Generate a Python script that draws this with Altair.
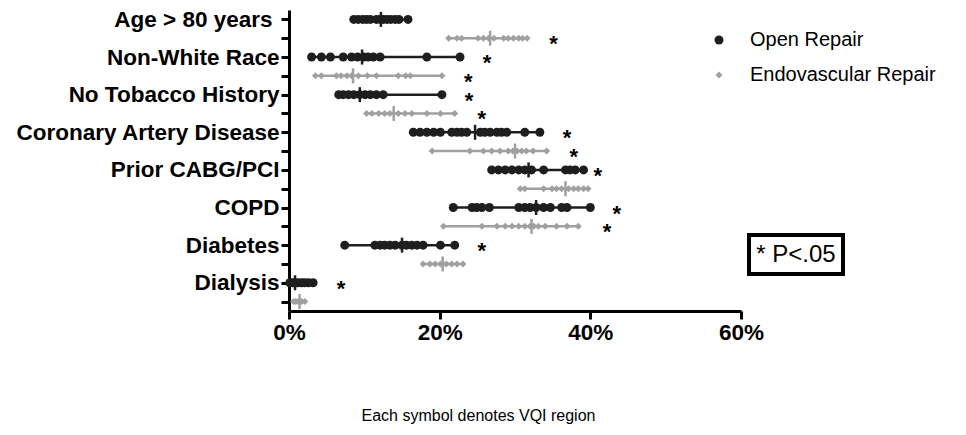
import json
import altair as alt
import pandas as pd

categories = ["Age > 80 years", "Non-White Race", "No Tobacco History",
              "Coronary Artery Disease", "Prior CABG/PCI", "COPD", "Diabetes", "Dialysis"]
groups = ["Open Repair", "Endovascular Repair"]

open_values = [
    [8.6, 9.2, 9.8, 10.3, 10.8, 11.6, 12.1, 12.5, 13.0, 13.5, 14.1, 14.6, 15.8],
    [3.0, 4.3, 5.5, 7.2, 8.3, 9.1, 9.9, 10.5, 11.2, 12.1, 18.3, 22.7],
    [6.6, 7.2, 7.9, 8.6, 9.4, 10.1, 10.8, 11.6, 12.5, 20.3],
    [16.5, 17.4, 18.3, 19.2, 20.1, 21.6, 22.3, 22.9, 23.6, 25.4, 26.0, 26.7, 27.6, 28.2, 28.9, 31.3, 33.3],
    [26.9, 27.8, 28.7, 29.6, 30.5, 31.3, 32.2, 33.8, 36.7, 37.3, 38.0, 39.1],
    [21.8, 24.3, 24.9, 25.6, 26.6, 30.5, 31.3, 32.0, 32.8, 33.8, 34.7, 36.2, 36.9, 40.0],
    [7.4, 11.4, 12.1, 12.7, 13.4, 14.1, 15.0, 15.6, 16.3, 17.0, 17.8, 20.1, 22.0],
    [0.1, 0.5, 0.8, 1.2, 1.7, 2.1, 2.6, 3.2],
]
open_medians = [12.2, 9.7, 9.4, 24.7, 31.8, 32.8, 15.0, 0.8]

endo_values = [
    [21.2, 22.3, 22.9, 25.1, 25.8, 26.5, 27.2, 28.5, 29.1, 29.8, 30.5, 31.0, 31.6],
    [3.5, 4.3, 6.3, 6.9, 7.7, 8.3, 9.2, 10.4, 11.6, 14.5, 15.5, 16.1, 20.3],
    [10.3, 11.0, 11.9, 12.7, 13.4, 14.5, 15.4, 16.3, 18.3, 20.1, 22.0],
    [19.0, 24.0, 25.8, 26.9, 28.0, 29.1, 29.7, 30.3, 30.9, 31.5, 32.4, 34.2],
    [30.7, 31.3, 33.8, 34.9, 35.5, 36.2, 37.1, 37.8, 38.4, 39.1, 39.7],
    [20.5, 25.6, 27.6, 28.7, 29.6, 30.5, 31.3, 32.0, 32.5, 33.1, 34.0, 35.5, 36.9, 38.4],
    [17.8, 18.7, 19.4, 20.1, 20.4, 20.9, 21.6, 22.3, 23.1],
    [0.6, 0.9, 1.2, 1.4, 1.7, 2.1],
]
endo_medians = [26.7, 8.5, 13.9, 30.0, 36.7, 32.2, 20.4, 1.4]

# significance markers (x position where the asterisk sits), None = no marker
open_star = [None, 26.3, 23.9, 36.9, 41.0, 43.5, 25.6, 6.9]
endo_star = [35.1, 23.8, 25.6, 37.8, None, 42.2, None, None]
star_symbol = "*"
note_text = ["* P<.05"]
x_ticks = [0, 20, 40, 60]
x_title = "Each symbol denotes VQI region"

BLACK = "#1e1e1e"
GRAY = "#a0a0a0"
FONT = "Arial, Liberation Sans, sans-serif"

pts, meds, stars = [], [], []
for i, cat in enumerate(categories):
    for g, vals, md, st, off in ((groups[0], open_values, open_medians, open_star, 1),
                                 (groups[1], endo_values, endo_medians, endo_star, 2)):
        r = 2 * i + off
        for v in vals[i]:
            pts.append({"category": cat, "group": g, "row": r, "value": v})
        meds.append({"category": cat, "group": g, "row": r, "value": md[i]})
        if st[i] is not None:
            stars.append({"row": r, "value": st[i], "label": star_symbol})
pts = pd.DataFrame(pts)
meds = pd.DataFrame(meds)
stars = pd.DataFrame(stars)

label_expr = ("datum.value % 2 == 1 ? " + json.dumps(categories, ensure_ascii=False)
              + "[floor((datum.value - 1) / 2)] : ''")

x_scale = alt.Scale(domain=[0, 60], nice=False, zero=True)
y_scale = alt.Scale(domain=[0.5, 16.5], reverse=True, nice=False, zero=False)
x_axis = alt.Axis(values=x_ticks, labelExpr="datum.value + '%'", title=x_title,
                  grid=False, tickSize=8, tickWidth=3, domainWidth=3,
                  labelFontSize=22.5, labelFontWeight="bold", labelPadding=2,
                  labelFlush=False, labelOverlap=False,
                  titleFontSize=16, titleFontWeight="normal", titleX=189, titleY=96,
                  titleBaseline="top", titleAlign="center")
y_axis = alt.Axis(values=list(range(1, 17)), labelExpr=label_expr, title=None,
                  grid=False, tickSize=8, tickWidth=3, domainWidth=3,
                  labelFontSize=22.5, labelFontWeight="bold",
                  labelPadding={"condition": {"test": "datum.value == 1", "value": 9}, "value": 2},
                  labelOverlap=False, labelBound=False, labelFlush=False, labelLimit=400)


def X(field):
    return alt.X(field, type="quantitative", scale=x_scale, axis=x_axis)


def Y():
    return alt.Y("row:Q", scale=y_scale, axis=y_axis)


layers = []
for g, col in ((groups[0], BLACK), (groups[1], GRAY)):
    layers.append(
        alt.Chart(pts).transform_filter(alt.datum.group == g)
        .mark_rule(color=col, strokeWidth=2.5)
        .encode(x=X("min(value)"), x2="max(value)", y=Y())
    )

legend = alt.Legend(title=None)
points = alt.Chart(pts).mark_point(filled=True, opacity=1, strokeWidth=0).encode(
    x=X("value"), y=Y(),
    color=alt.Color("group:N", scale=alt.Scale(domain=groups, range=[BLACK, GRAY]), legend=legend),
    shape=alt.Shape("group:N", scale=alt.Scale(domain=groups, range=["circle", "diamond"]), legend=legend),
    size=alt.Size("group:N", scale=alt.Scale(domain=groups, range=[80, 49]), legend=legend),
)
layers.append(points)

for g, col in ((groups[0], BLACK), (groups[1], GRAY)):
    layers.append(
        alt.Chart(meds).transform_filter(alt.datum.group == g)
        .mark_tick(orient="vertical", size=15, thickness=2.5, color=col, opacity=1)
        .encode(x=X("value"), y=Y())
    )

star_layer = alt.Chart(stars).mark_text(
    fontSize=22, fontWeight="bold", font=FONT, color="black",
    align="center", baseline="alphabetic", dy=13
).encode(x=X("value"), y=Y(), text="label:N")
layers.append(star_layer)

note_df = pd.DataFrame({"note": note_text})
box = alt.Chart(note_df).mark_rect(fill="white", stroke="black", strokeWidth=4).encode(
    x=alt.value(460), x2=alt.value(554), y=alt.value(225), y2=alt.value(264))
note = alt.Chart(note_df).mark_text(fontSize=24, font=FONT, color="black",
                                    align="center", baseline="middle").encode(
    x=alt.value(507), y=alt.value(245), text="note:N")
layers += [box, note]

chart = alt.layer(*layers).properties(
    width=452, height=301,
    padding={"left": 281, "top": 2, "right": 217, "bottom": 116},
    autosize=alt.AutoSizeParams(type="none"),
).configure_view(stroke=None).configure_axis(
    domainColor="black", tickColor="black", labelColor="black", titleColor="black",
    labelFont=FONT, titleFont=FONT,
).configure_legend(
    orient="none", legendX=420, legendY=20, padding=0, labelFont=FONT,
    labelFontSize=20, labelColor="black", labelOffset=21, rowPadding=15,
    symbolStrokeWidth=0, labelLimit=400,
)

chart.save("out.html", embed_options={"renderer": "svg", "actions": False})
